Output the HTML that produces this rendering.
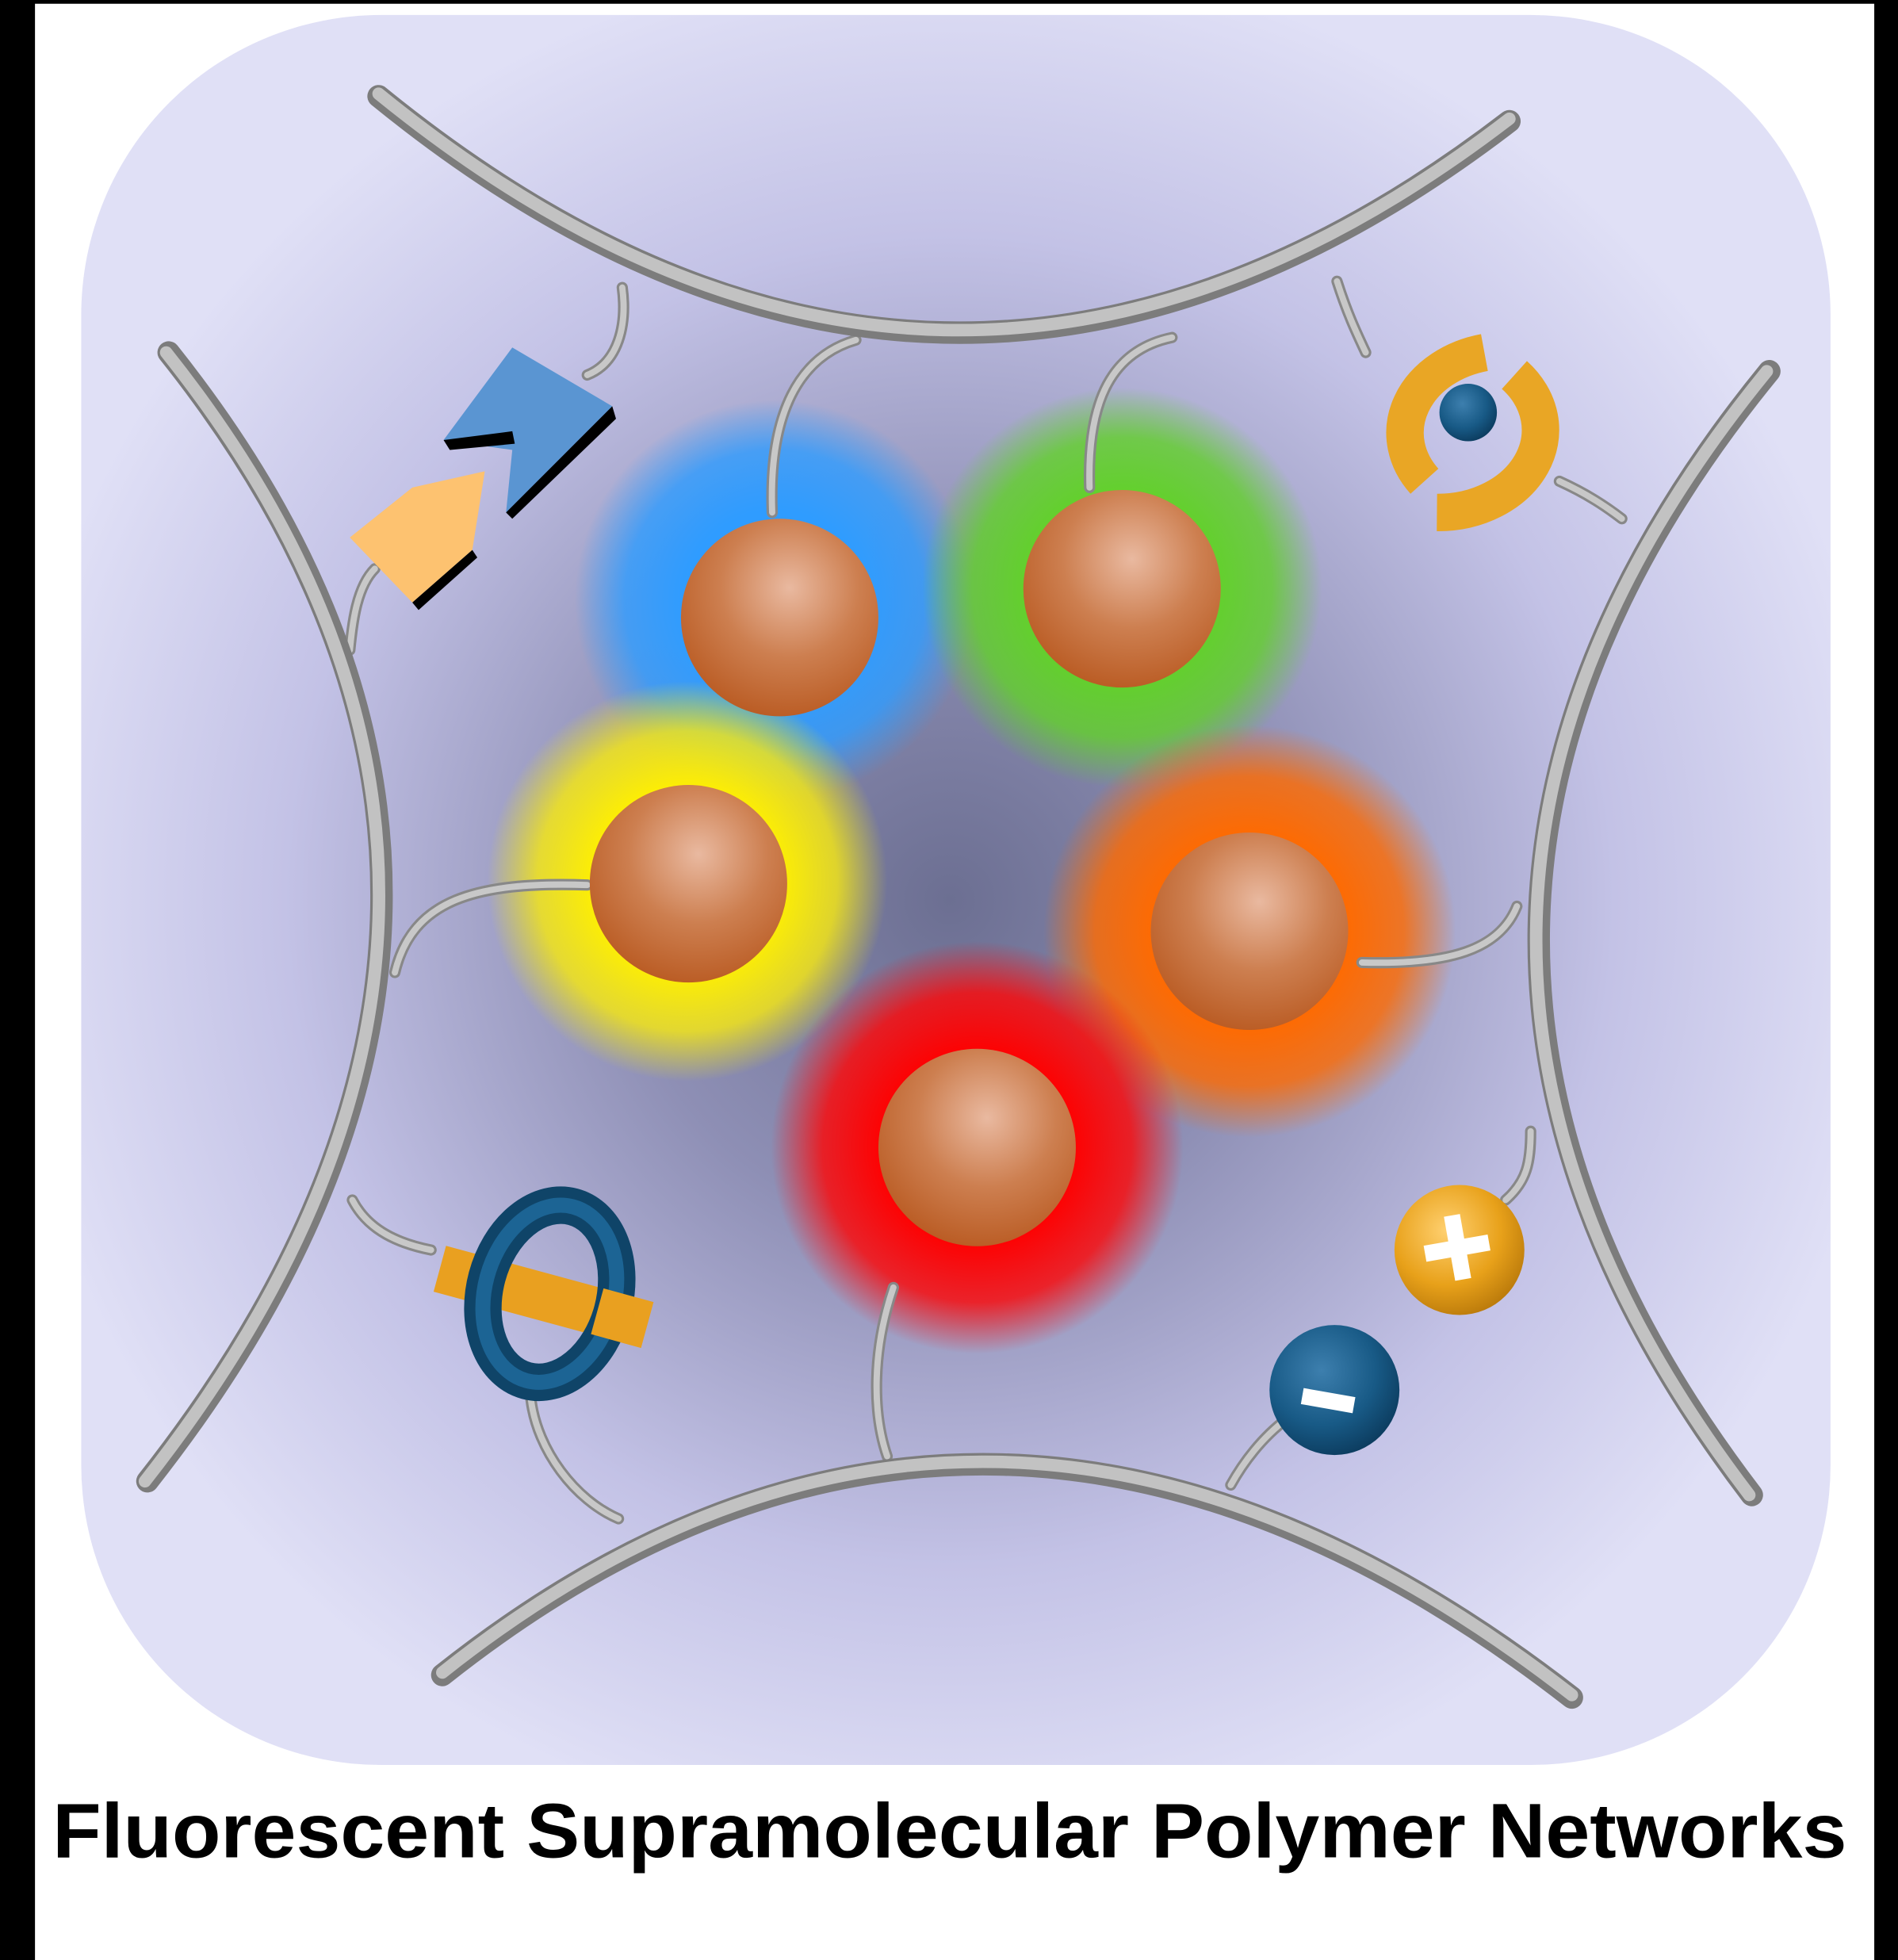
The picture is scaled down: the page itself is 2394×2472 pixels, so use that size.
<!DOCTYPE html>
<html><head><meta charset="utf-8"><style>
html,body{margin:0;padding:0;background:#fff;}
svg{display:block;}
</style></head><body>
<svg width="2394" height="2472" viewBox="0 0 1519 1568" preserveAspectRatio="none" xmlns="http://www.w3.org/2000/svg">
<defs>
<radialGradient id="bg" cx="760" cy="720" r="760" gradientUnits="userSpaceOnUse">
<stop offset="0" stop-color="#6c6f92"/>
<stop offset="0.35" stop-color="#8e8fb5"/>
<stop offset="0.7" stop-color="#c3c2e6"/>
<stop offset="1" stop-color="#e0e0f6"/>
</radialGradient>
<radialGradient id="sph" cx="0.55" cy="0.35" r="0.7">
<stop offset="0" stop-color="#e9b9a0"/>
<stop offset="0.5" stop-color="#cd7f50"/>
<stop offset="1" stop-color="#b8581f"/>
</radialGradient>
<radialGradient id="gb"><stop offset="0.45" stop-color="#2f9cff"/><stop offset="0.75" stop-color="#2f9cff" stop-opacity="0.8"/><stop offset="1" stop-color="#2f9cff" stop-opacity="0"/></radialGradient>
<radialGradient id="gg"><stop offset="0.45" stop-color="#62d12a"/><stop offset="0.75" stop-color="#62d12a" stop-opacity="0.8"/><stop offset="1" stop-color="#62d12a" stop-opacity="0"/></radialGradient>
<radialGradient id="gy"><stop offset="0.45" stop-color="#fff000"/><stop offset="0.75" stop-color="#f8ea10" stop-opacity="0.8"/><stop offset="1" stop-color="#f8ea10" stop-opacity="0"/></radialGradient>
<radialGradient id="go"><stop offset="0.45" stop-color="#ff6a00"/><stop offset="0.75" stop-color="#ff6a00" stop-opacity="0.8"/><stop offset="1" stop-color="#ff6a00" stop-opacity="0"/></radialGradient>
<radialGradient id="gr"><stop offset="0.45" stop-color="#ff0000"/><stop offset="0.75" stop-color="#ff0505" stop-opacity="0.8"/><stop offset="1" stop-color="#ff0505" stop-opacity="0"/></radialGradient>
<radialGradient id="gold" cx="0.4" cy="0.35" r="0.7"><stop offset="0" stop-color="#ffd070"/><stop offset="0.6" stop-color="#e8a11a"/><stop offset="1" stop-color="#b8780a"/></radialGradient>
<radialGradient id="navy" cx="0.4" cy="0.35" r="0.7"><stop offset="0" stop-color="#3d7fae"/><stop offset="0.6" stop-color="#185a86"/><stop offset="1" stop-color="#0b3a5c"/></radialGradient>
</defs>
<rect x="0" y="0" width="1519" height="1568" fill="#fff"/>
<rect x="0" y="0" width="28" height="1568" fill="#000"/>
<rect x="1500" y="0" width="19" height="1568" fill="#000"/>
<rect x="0" y="0" width="1519" height="3" fill="#000"/>
<rect x="65" y="12" width="1400" height="1400" rx="240" fill="url(#bg)"/>

<circle cx="620" cy="480" r="160" fill="url(#gb)"/>
<circle cx="898" cy="470" r="160" fill="url(#gg)"/>
<circle cx="550" cy="705" r="160" fill="url(#gy)"/>
<circle cx="1000" cy="745" r="165" fill="url(#go)"/>
<circle cx="782" cy="918" r="165" fill="url(#gr)"/>

<g fill="none" stroke-linecap="round">
<g stroke="#888" stroke-width="9">
<path d="M618 410 C615 330 640 285 685 272"/>
<path d="M872 390 C870 320 890 280 938 270"/>
<path d="M470 708 C380 705 330 720 316 778"/>
<path d="M1090 770 C1160 772 1200 760 1214 725"/>
<path d="M715 1030 C698 1080 698 1130 710 1165"/>
<path d="M470 300 C495 290 502 260 498 230"/>
<path d="M300 455 C285 470 282 500 280 520"/>
<path d="M1070 225 C1078 250 1085 265 1093 282"/>
<path d="M1248 385 C1270 395 1285 405 1298 415"/>
<path d="M282 960 C295 985 320 995 345 1000"/>
<path d="M425 1120 C430 1160 460 1200 495 1215"/>
<path d="M1205 960 C1222 945 1225 930 1225 905"/>
<path d="M985 1188 C995 1170 1010 1150 1030 1135"/>
</g>
<g stroke="#c8c8c8" stroke-width="5">
<path d="M618 410 C615 330 640 285 685 272"/>
<path d="M872 390 C870 320 890 280 938 270"/>
<path d="M470 708 C380 705 330 720 316 778"/>
<path d="M1090 770 C1160 772 1200 760 1214 725"/>
<path d="M715 1030 C698 1080 698 1130 710 1165"/>
<path d="M470 300 C495 290 502 260 498 230"/>
<path d="M300 455 C285 470 282 500 280 520"/>
<path d="M1070 225 C1078 250 1085 265 1093 282"/>
<path d="M1248 385 C1270 395 1285 405 1298 415"/>
<path d="M282 960 C295 985 320 995 345 1000"/>
<path d="M425 1120 C430 1160 460 1200 495 1215"/>
<path d="M1205 960 C1222 945 1225 930 1225 905"/>
<path d="M985 1188 C995 1170 1010 1150 1030 1135"/>
</g>
<g stroke="#7c7c7c" stroke-width="18">
<path d="M303 77 Q755 445 1208 97"/>
<path d="M135 282 Q484 720 118 1185"/>
<path d="M1416 297 Q1054 740 1402 1196"/>
<path d="M354 1340 Q790 994 1258 1358"/>
</g>
<g stroke="#c2c2c2" stroke-width="10">
<path d="M303 75 Q755 443 1208 95"/>
<path d="M133 282 Q482 720 116 1185"/>
<path d="M1414 297 Q1052 740 1400 1196"/>
<path d="M354 1338 Q790 992 1258 1356"/>
</g>
</g>

<circle cx="624" cy="494" r="79" fill="url(#sph)"/>
<circle cx="898" cy="471" r="79" fill="url(#sph)"/>
<circle cx="551" cy="707" r="79" fill="url(#sph)"/>
<circle cx="1000" cy="745" r="79" fill="url(#sph)"/>
<circle cx="782" cy="918" r="79" fill="url(#sph)"/>

<polygon points="410,278 490,325 405,410 410,360 355,352" fill="#5a95d2"/>
<polygon points="405,410 490,325 493,335 410,415" fill="#000"/>
<polygon points="355,352 410,345 412,355 360,360" fill="#000"/>
<polygon points="280,430 330,390 388,377 378,440 330,482" fill="#fdc270"/>
<polygon points="330,482 378,440 382,446 335,488" fill="#000"/>

<path d="M1188 282 A82 66 0 0 0 1140 385" fill="none" stroke="#e9a625" stroke-width="30"/>
<path d="M1212 300 A82 66 0 0 1 1150 410" fill="none" stroke="#e9a625" stroke-width="30"/>
<circle cx="1175" cy="330" r="23" fill="url(#navy)"/>

<line x1="352" y1="1015" x2="518" y2="1060" stroke="#e9a020" stroke-width="38"/>
<ellipse cx="440" cy="1035" rx="52" ry="72" fill="none" stroke="#0f4468" stroke-width="30" transform="rotate(15 440 1035)"/>
<ellipse cx="440" cy="1035" rx="52" ry="72" fill="none" stroke="#1c6494" stroke-width="12" transform="rotate(15 440 1035)"/>
<line x1="478" y1="1049" x2="518" y2="1060" stroke="#e9a020" stroke-width="38"/>

<circle cx="1168" cy="1000" r="52" fill="url(#gold)"/>
<rect x="1140" y="992" width="52" height="13" fill="#fff" transform="rotate(-10 1166 998)"/>
<rect x="1160" y="972" width="13" height="52" fill="#fff" transform="rotate(-10 1166 998)"/>
<circle cx="1068" cy="1112" r="52" fill="url(#navy)"/>
<rect x="1042" y="1114" width="42" height="13" fill="#fff" transform="rotate(10 1063 1120)"/>

<text x="42" y="1486" textLength="1436" lengthAdjust="spacingAndGlyphs" font-family="Liberation Sans, sans-serif" font-weight="bold" font-size="62" fill="#000">Fluorescent Supramolecular Polymer Networks</text>
</svg>
</body></html>
